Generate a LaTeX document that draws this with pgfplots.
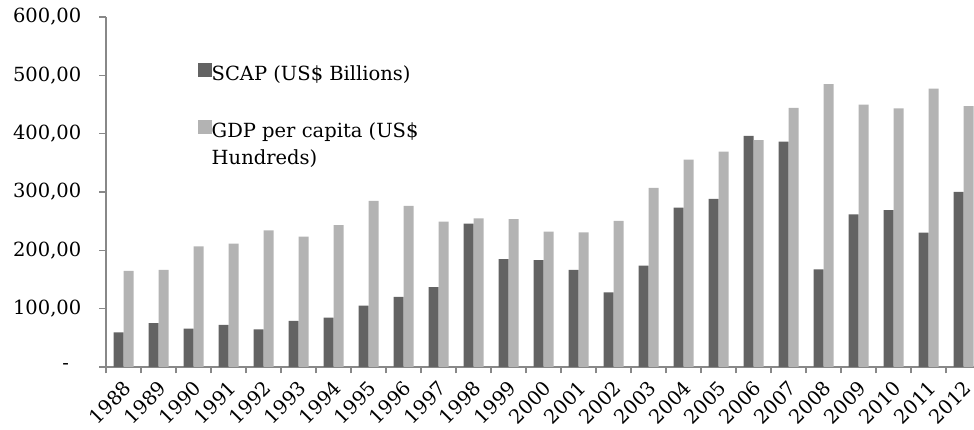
\documentclass[border=0pt]{standalone}
\usepackage{fontspec}
\setmainfont{DejaVu Serif}
\usepackage{pgfplots}
\pgfplotsset{compat=1.18}
\definecolor{dk}{HTML}{636363}
\definecolor{lt}{HTML}{B3B3B3}
\definecolor{axc}{HTML}{888888}
\newcommand\f{\fontsize{19.5}{23}\selectfont}
\begin{document}
\begin{tikzpicture}[x=1pt,y=1pt]
\useasboundingbox (0,0) rectangle (974,430);
\begin{axis}[
  at={(106pt,63pt)}, anchor=south west,
  x=35pt, y=0.583333pt,
  xmin=-0.5, xmax=24.5, ymin=0, ymax=600,
  axis lines=left,
  axis line style={-, draw=axc, line width=1.2pt},
  tick style={draw=axc, line width=1.2pt},
  tick align=outside,
  major tick length=6.5pt,
  xtick={-0.5,0.5,...,24.5},
  x tick label as interval,
  xticklabels={1988,1989,1990,1991,1992,1993,1994,1995,1996,1997,1998,1999,2000,2001,2002,2003,2004,2005,2006,2007,2008,2009,2010,2011,2012},
  xticklabel style={font=\f, inner sep=0pt, xshift=-1pt, yshift=-6pt, rotate=45, anchor=north east},
  ytick={0,100,200,300,400,500,600},
  yticklabels={{\makebox[19pt][l]{-}},{100,00},{200,00},{300,00},{400,00},{500,00},{600,00}},
  yticklabel style={font=\f, inner sep=0pt, xshift=-18pt, anchor=east},
  ybar, bar width=10pt,
  legend style={at={(0.10514,0.8677)}, anchor=north west, draw=none, fill=none,
    inner sep=0pt, row sep=7.5pt, font=\f,
    nodes={inner sep=0pt, text height=15pt, text depth=5pt}},
  legend cell align=left,
]
\addplot[fill=dk, draw=none, bar shift=-5pt,
  legend image code/.code={\fill[dk] (-1pt,-2pt) rectangle (12.5pt,12pt);}]
coordinates {(0,59.5) (1,75.4) (2,65.7) (3,72) (4,64.6) (5,78.9) (6,84.6) (7,105) (8,120) (9,137) (10,245.7) (11,185.1) (12,183.4) (13,166.3) (14,128) (15,173.7) (16,273.1) (17,288) (18,396) (19,386.3) (20,167.5) (21,261.7) (22,269.1) (23,230.3) (24,300)};
\addlegendentry{SCAP (US\$ Billions)}
\addlegendimage{empty legend}
\addlegendentry{}
\addplot[fill=lt, draw=none, bar shift=5pt,
  legend image code/.code={\fill[lt] (-1pt,-2pt) rectangle (12.5pt,12pt);}]
coordinates {(0,164.6) (1,166.3) (2,206.9) (3,211.4) (4,234.3) (5,223.4) (6,243.4) (7,284.6) (8,276) (9,249.1) (10,254.9) (11,253.7) (12,232) (13,230.9) (14,250.3) (15,306.9) (16,355.4) (17,369) (18,389.1) (19,444) (20,485.1) (21,449.7) (22,443.4) (23,477.1) (24,447.4)};
\addlegendentry{GDP per capita (US\$}
\addlegendimage{empty legend}
\addlegendentry{Hundreds)}
\end{axis}
\end{tikzpicture}
\end{document}
